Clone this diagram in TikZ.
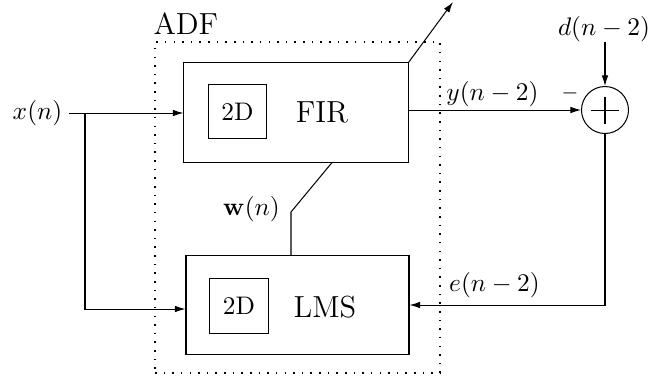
\documentclass[tikz,border=0pt]{standalone}
\usetikzlibrary{arrows.meta,calc}
\begin{document}
\begin{tikzpicture}[x=0.3937pt,y=-0.3937pt,
  arr/.style={-{Latex[length=4.2pt,width=2.6pt]}},
  block/.style={draw, rectangle, inner sep=0pt},
  lbl/.style={inner sep=0pt},
  adfbox/.style={draw, rectangle, inner sep=0pt, line width=0.45pt,
                 dash pattern=on 0.6pt off 2.8pt}]
\useasboundingbox (0,0) rectangle (652,383);

% adaptive filter boundary and its title
\node[adfbox, minimum width=112.2pt, minimum height=130.3pt] (adf) at (297.5,207.5) {};
\node[lbl, anchor=south west, font=\large] (adft) at (153,35) {ADF};

% filter and update blocks
\node[block, minimum width=88.2pt, minimum height=39pt] (fir) at (296,112.5) {};
\node[block, minimum width=23.2pt, minimum height=21.6pt] (fir2d) at (237.5,111.5) {2D};
\node[lbl, font=\large] (firt) at (322,112.5) {FIR};

\node[block, minimum width=87.8pt, minimum height=38.6pt] (lms) at (297.5,305) {};
\node[block, minimum width=23.6pt, minimum height=22pt] (lms2d) at (239,306) {2D};
\node[lbl, font=\large] (lmst) at (325,307.5) {LMS};

% summing junction
\node[draw, circle, minimum size=18.5pt, inner sep=0pt] (sum) at (605,110) {};
\draw ($(sum.center)+(-14,0)$) -- ($(sum.center)+(14,0)$);
\draw ($(sum.center)+(0,-13.5)$) -- ($(sum.center)+(0,13.5)$);

% signal labels
\node[lbl, inner xsep=2.4pt] (xin) at (37.5,113) {$x(n)$};
\node[lbl] (yl) at (492.5,94) {$y(n-2)$};
\node[lbl, font=\footnotesize] (minus) at (570,93) {$-$};
\node[lbl] (dl) at (604,29) {$d(n-2)$};
\node[lbl] (el) at (494.5,285) {$e(n-2)$};
\node[lbl] (wl) at (251.5,209.5) {$\mathbf{w}(n)$};

% helper points
\coordinate (br) at (85,0);
\coordinate (wbot) at (291,0);
\coordinate (wknee) at (291,212);
\coordinate (wtop) at (332,0);
\coordinate (outtip) at (453,2);

% input to both blocks
\draw[arr] (xin.east) -- (xin.east -| fir.west);
\draw[arr] (br |- xin.east) |- ($(lms.west)+(0,4)$);

% filter output to the junction
\draw[arr] (sum.west -| fir.east) -- (sum.west);
\draw[arr] (sum.north |- dl.south) -- (sum.north);

% error fed back to the update block
\draw[arr] (sum.south) |- (lms.east);

% weight vector from update block to filter
\draw (wbot |- lms.north) -- (wknee) -- (wtop |- fir.south);

% output arrow leaving the filter
\draw[arr] (fir.north east) -- (outtip);
\end{tikzpicture}
\end{document}
